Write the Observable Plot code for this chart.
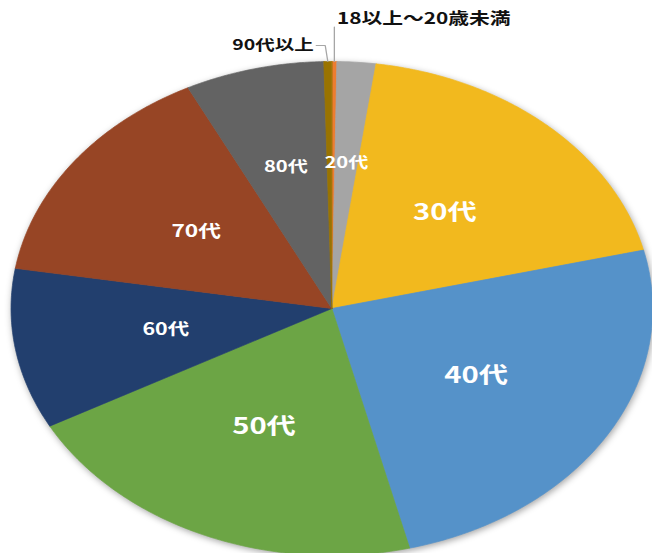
<!DOCTYPE html>
<html><head><meta charset="utf-8">
<script src="https://cdn.jsdelivr.net/npm/d3@7"></script>
<script src="https://cdn.jsdelivr.net/npm/@observablehq/plot@0.6"></script>
<style>
html,body{margin:0;padding:0;background:#fff;overflow:hidden;}
#chart{width:652px;height:553px;overflow:hidden;position:relative;}
#chart svg{transform:scaleX(1.2988);transform-origin:0 0;display:block;}
#chart svg > g:first-of-type{filter:drop-shadow(1px 2px 3px rgba(0,0,0,0.35));}
</style>
</head><body>
<div id="chart"></div>
<script>
// Age-group shares (%), clockwise from 12 o'clock
const labels = ["18以上～20歳未満","20代","30代","40代","50代","60代","70代","80代","90代以上"];
const values = [0.25, 1.95, 19.0, 24.9, 21.0, 10.5, 15.0, 7.0, 0.4];
const colors = ["#ED7D31","#A5A5A5","#F2B91E","#5592C9","#6CA545","#223F6E","#974525","#636363","#997300"];

const arcs = d3.pie().sort(null).value(d => d)(values);

// slice outlines (center + arc) in unit-circle coordinates
const slices = [];
arcs.forEach((p, i) => {
  const n = Math.max(2, Math.ceil((p.endAngle - p.startAngle) / 0.01));
  slices.push({label: labels[i], x: 0, y: 0});
  for (let k = 0; k <= n; k++) {
    const a = p.startAngle + (p.endAngle - p.startAngle) * k / n;
    slices.push({label: labels[i], x: Math.sin(a), y: Math.cos(a)});
  }
});

// inside labels
const inner = arcs.filter(p => p.value >= 1).map(p => {
  const m = (p.startAngle + p.endAngle) / 2;
  const r = p.value < 8 ? 0.59 : 0.525;
  const size = p.value >= 18 ? 22.5 : p.value >= 14 ? 17.5 : p.value >= 9 ? 16.5 : 15.5;
  return {label: labels[p.index], x: r * Math.sin(m), y: r * Math.cos(m), size};
});

// outside labels with leader lines for the tiny slices
const leaders = [];
const outer = [];
arcs.filter(p => p.value < 1).forEach((p, j) => {
  const m = (p.startAngle + p.endAngle) / 2;
  const x0 = Math.sin(m), y0 = Math.cos(m);
  const lab = labels[p.index];
  if (j === 0) {
    leaders.push({label: lab, x: x0, y: y0}, {label: lab, x: x0, y: 1.14});
    outer.push({label: lab, x: x0 + 0.008, y: 1.172, anchor: "start"});
  } else {
    leaders.push({label: lab, x: x0, y: y0}, {label: lab, x: x0 - 0.008, y: 1.065}, {label: lab, x: x0 - 0.036, y: 1.065});
    outer.push({label: lab, x: x0 - 0.044, y: 1.068, anchor: "end"});
  }
});

const plot = Plot.plot({
  width: 502,
  height: 553,
  margin: 0,
  style: {fontFamily: "'Noto Sans CJK JP', 'Noto Sans', sans-serif", background: "white"},
  x: {domain: [-1, 1], range: [8, 502], axis: null},
  y: {domain: [-1, 1], range: [555, 61], axis: null},
  color: {domain: labels, range: colors},
  marks: [
    Plot.line(slices, {x: "x", y: "y", z: "label", fill: "label", stroke: "label", strokeWidth: 0.6, curve: "linear-closed"}),
    Plot.line(leaders, {x: "x", y: "y", z: "label", stroke: "#A6A6A6", strokeWidth: 1}),
    Plot.text(inner, {x: "x", y: "y", text: "label", fill: "white", fontWeight: "bold", fontSize: "size"}),
    Plot.text(outer.filter(d => d.anchor === "start"), {x: "x", y: "y", text: "label", fill: "#111", fontWeight: "bold", fontSize: 16, textAnchor: "start"}),
    Plot.text(outer.filter(d => d.anchor === "end"), {x: "x", y: "y", text: "label", fill: "#111", fontWeight: "bold", fontSize: 15, textAnchor: "end"})
  ]
});
document.getElementById("chart").appendChild(plot);
</script>
</body></html>
